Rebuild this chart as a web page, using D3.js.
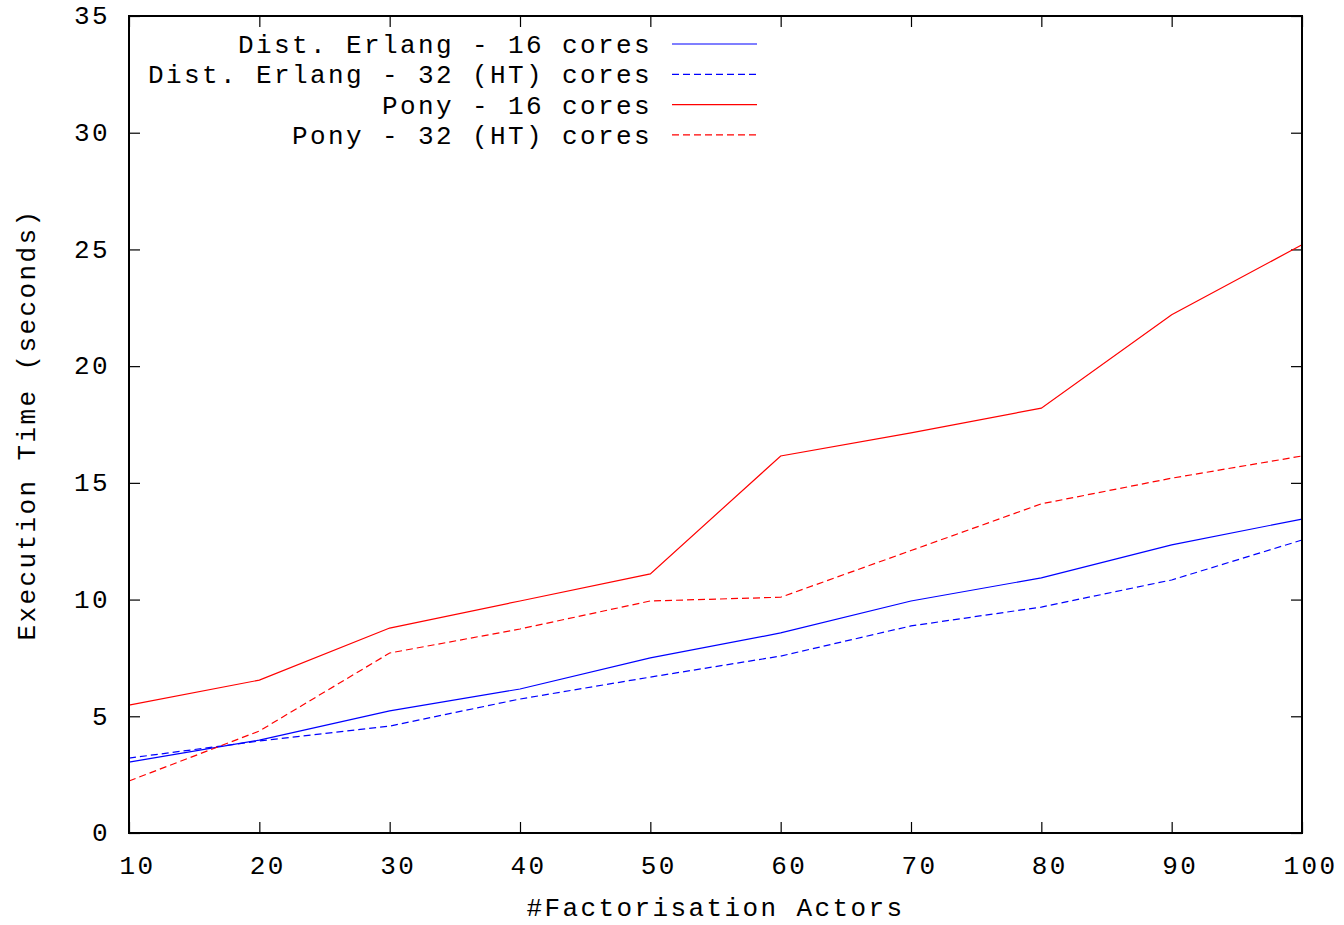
<!DOCTYPE html>
<html>
<head>
<meta charset="utf-8">
<script src="https://cdn.jsdelivr.net/npm/d3@7"></script>
<style>
  body { margin: 0; background: #fff; }
  text { font-family: "Liberation Mono", "DejaVu Sans Mono", monospace; font-size: 26px; letter-spacing: 2.4px; fill: #000; }
</style>
</head>
<body>
<div id="chart"></div>
<script>
var actors = [10, 20, 30, 40, 50, 60, 70, 80, 90, 100];
var erlang16 = [3.04, 3.98, 5.23, 6.17, 7.5, 8.57, 9.94, 10.93, 12.34, 13.45];
var erlang32 = [3.21, 3.94, 4.58, 5.74, 6.68, 7.58, 8.87, 9.68, 10.84, 12.55];
var pony16 = [5.48, 6.55, 8.78, 9.94, 11.1, 16.15, 17.14, 18.2, 22.2, 25.2];
var pony32 = [2.23, 4.37, 7.71, 8.74, 9.94, 10.1, 12.1, 14.1, 15.2, 16.15];
var yTicks = [0, 5, 10, 15, 20, 25, 30, 35];
var xTicks = [10, 20, 30, 40, 50, 60, 70, 80, 90, 100];

var series = [
  {name: "Dist. Erlang - 16 cores", values: erlang16, color: "#0000ff", dash: null},
  {name: "Dist. Erlang - 32 (HT) cores", values: erlang32, color: "#0000ff", dash: "7,4"},
  {name: "Pony - 16 cores", values: pony16, color: "#ff0000", dash: null},
  {name: "Pony - 32 (HT) cores", values: pony32, color: "#ff0000", dash: "7,4"}
];

var width = 1344, height = 925;
var margin = {top: 16, right: 42, bottom: 92, left: 129};
var w = width - margin.left - margin.right;
var h = height - margin.top - margin.bottom;

var svg = d3.select("#chart").append("svg")
  .attr("width", width)
  .attr("height", height);

var g = svg.append("g")
  .attr("transform", "translate(" + margin.left + "," + margin.top + ")");

var x = d3.scaleLinear().domain([10, 100]).range([0, w]);
var y = d3.scaleLinear().domain([0, 35]).range([h, 0]);

// mirrored inward ticks, gnuplot style
var tick = 11;
g.append("g")
  .attr("transform", "translate(0," + h + ")")
  .call(d3.axisBottom(x).tickValues(xTicks).tickSize(-tick).tickPadding(tick + 12).tickSizeOuter(0))
  .call(function(a) { a.select(".domain").remove(); a.selectAll("line").attr("stroke", "#000").attr("stroke-width", 1.2); a.selectAll("text").attr("dx", 8).style("font-size", "26px").style("font-family", "Liberation Mono"); });
g.append("g")
  .call(d3.axisTop(x).tickValues(xTicks).tickSize(-tick).tickFormat("").tickSizeOuter(0))
  .call(function(a) { a.select(".domain").remove(); a.selectAll("line").attr("stroke", "#000").attr("stroke-width", 1.2); });
g.append("g")
  .call(d3.axisLeft(y).tickValues(yTicks).tickSize(-tick).tickPadding(tick + 8).tickSizeOuter(0))
  .call(function(a) { a.select(".domain").remove(); a.selectAll("line").attr("stroke", "#000").attr("stroke-width", 1.2); a.selectAll("text").attr("dy", "0.3em").style("font-size", "26px").style("font-family", "Liberation Mono"); });
g.append("g")
  .attr("transform", "translate(" + w + ",0)")
  .call(d3.axisRight(y).tickValues(yTicks).tickSize(-tick).tickFormat("").tickSizeOuter(0))
  .call(function(a) { a.select(".domain").remove(); a.selectAll("line").attr("stroke", "#000").attr("stroke-width", 1.2); });

var line = d3.line()
  .x(function(d, i) { return x(actors[i]); })
  .y(function(d) { return y(d); });

series.forEach(function(s) {
  g.append("path")
    .datum(s.values)
    .attr("fill", "none")
    .attr("stroke", s.color)
    .attr("stroke-width", 1.2)
    .attr("stroke-dasharray", s.dash)
    .attr("d", line);
});

// frame
g.append("rect")
  .attr("width", w).attr("height", h)
  .attr("fill", "none").attr("stroke", "#000").attr("stroke-width", 2);

// legend
var legend = svg.append("g").attr("transform", "translate(652,44)");
series.forEach(function(s, i) {
  legend.append("text")
    .attr("x", 0).attr("y", i * 30.3)
    .attr("dy", "0.35em")
    .attr("text-anchor", "end")
    .text(s.name);
  legend.append("line")
    .attr("x1", 20).attr("x2", 105)
    .attr("y1", i * 30.3).attr("y2", i * 30.3)
    .attr("stroke", s.color)
    .attr("stroke-width", 1.2)
    .attr("stroke-dasharray", s.dash);
});

// axis titles
svg.append("text")
  .attr("x", margin.left + w / 2).attr("y", 907)
  .attr("dy", "0.35em")
  .attr("text-anchor", "middle")
  .text("#Factorisation Actors");

svg.append("text")
  .attr("transform", "translate(26," + (margin.top + h / 2) + ") rotate(-90)")
  .attr("dy", "0.35em")
  .attr("text-anchor", "middle")
  .text("Execution Time (seconds)");
</script>
</body>
</html>
